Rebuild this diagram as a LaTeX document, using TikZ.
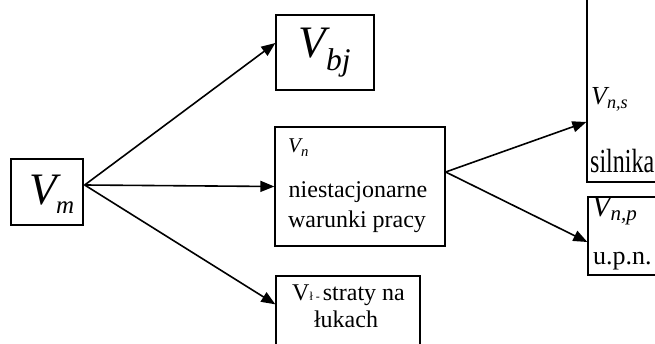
\documentclass[tikz,border=0pt]{standalone}
\usepackage{amsmath}
\usepackage{fontspec}
\setmainfont{Liberation Serif}
\usetikzlibrary{calc, positioning, arrows.meta}

\begin{document}
\begin{tikzpicture}[x=1pt, y=-1pt,
  box/.style={draw, line width=1.3pt, inner sep=0pt},
  flow/.style={line width=1.6pt, -{Triangle[length=14pt, width=11pt]}},
  txt/.style={inner sep=0pt, font=\fontsize{24}{26}\selectfont}]
\useasboundingbox (0,0) rectangle (655,344);
\clip (0,0) rectangle (655,344);

% Draw boxes
\node[box, minimum width=72pt, minimum height=66pt] (vm) at (47,192) {};
\node[box, minimum width=98pt, minimum height=75pt, font=\fontsize{45}{50}\selectfont] (vbj) at (325,52.5) {$\textit{V}_{\textit{bj}}$};
\node[box, minimum width=170pt, minimum height=119pt] (vn) at (360,186.5) {};
\node[box, minimum width=144pt, minimum height=94pt] (vl) at (348,323) {};
\node[box, minimum width=113pt, minimum height=192pt] (vns) at (643.5,86) {};
\node[box, minimum width=112pt, minimum height=78pt] (vnp) at (644,236) {};

% Texts in boxes
\node[txt, anchor=base west, font=\fontsize{45}{50}\selectfont] (vmlab) at (29,205) {\textit{V}\kern-5pt\raisebox{-9pt}{\fontsize{25}{27}\selectfont\textit{m}}};
\node[txt, anchor=base west, font=\fontsize{21}{23}\selectfont] (vnlab) at (288,153) {$\textit{V}_{\textit{n}}$};
\node[txt, anchor=base] (vntop) at (358,198) {niestacjonarne};
\node[txt, anchor=base] (vnbot) at (357,228) {warunki pracy};
\node[txt, anchor=base west] (vltop) at (292,300) {V{\fontsize{12}{12}\selectfont ł - }straty na};
\node[txt, anchor=base] (vlbot) at (346,327) {łukach};
\node[txt, anchor=base west, font=\fontsize{26}{28}\selectfont] (vnslab) at (591,105) {$\textit{V}_{\textit{n,s}}$};
\node[txt, anchor=base west] (vnsbot) at (590,173) {\scalebox{1}[1.4]{silnika}};
\node[txt, anchor=base west, font=\fontsize{30}{32}\selectfont] (vnplab) at (592,217) {$\textit{V}_{\textit{n,p}}$};
\node[txt, anchor=base west, font=\fontsize{26}{28}\selectfont] (vnpbot) at (593,265) {u.p.n.};

% Arrows
\coordinate (vmout) at ($(vm.east)+(1,-7)$);
\coordinate (vnout) at ($(vn.east)+(0,-14.5)$);
\draw[flow] (vmout) -- ($(vbj.west)+(0,-9.5)$);
\draw[flow] (vmout) -- (vn.west);
\draw[flow] (vmout) -- ($(vl.north west)+(0,29)$);
\draw[flow] (vnout) -- ($(vns.west)+(0,36)$);
\draw[flow] (vnout) -- ($(vnp.west)+(0,6)$);

\end{tikzpicture}
\end{document}
